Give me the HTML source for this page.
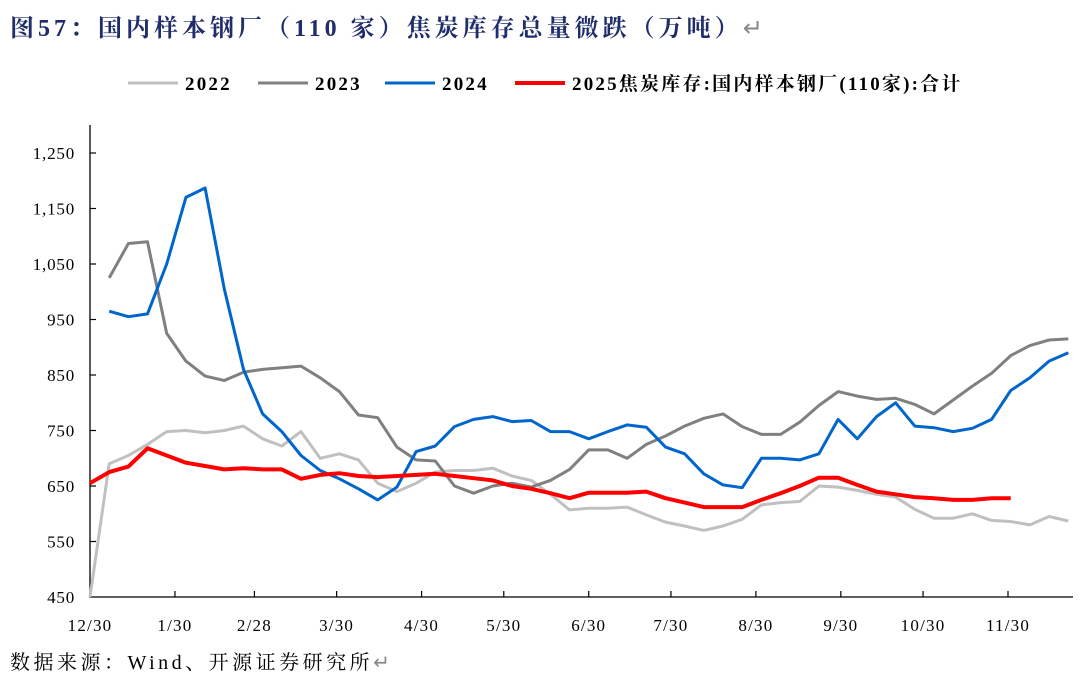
<!DOCTYPE html>
<html><head><meta charset="utf-8"><style>
body{margin:0;width:1080px;height:674px;background:#fff;overflow:hidden;font-family:"Liberation Serif","Noto Serif CJK SC",serif;}
#title{position:absolute;left:10px;top:8px;font-size:24px;font-weight:bold;color:#1f2d6b;letter-spacing:4px;white-space:nowrap;}
#src{position:absolute;left:10px;top:646px;font-size:20px;color:#000;letter-spacing:3.5px;white-space:nowrap;}
svg{position:absolute;left:0;top:0;}
</style></head><body>
<div id="title">图57：国内样本钢厂（110 家）焦炭库存总量微跌（万吨）<span style="color:#888;font-weight:normal">↵</span></div>
<svg id="chart" width="1080" height="674"></svg>
<div id="src">数据来源：Wind、开源证券研究所<span style="color:#888">↵</span></div>
<script>
const yTicks=[450,550,650,750,850,950,1050,1150,1250];
const yTickLabels=["450","550","650","750","850","950","1,050","1,150","1,250"];
const xTickDays=[0,31,60,90,121,151,182,212,243,274,304,335];
const xTickLabels=["12/30","1/30","2/28","3/30","4/30","5/30","6/30","7/30","8/30","9/30","10/30","11/30"];
const seriesNames=["2022","2023","2024","2025焦炭库存:国内样本钢厂(110家):合计"];
const s2022=[450,690,705,725,748,750,746,750,758,735,722,748,700,708,697,655,640,655,675,678,678,682,668,660,635,607,610,610,612,598,585,578,570,578,590,616,620,622,650,648,642,635,630,608,592,592,600,588,586,580,595,587];
const s2023=[null,1025,1087,1090,925,875,848,840,855,860,863,866,845,820,778,773,720,697,695,650,637,650,655,648,660,680,715,715,700,725,740,758,772,780,757,743,743,765,795,820,812,806,808,797,780,805,830,853,885,903,913,915];
const s2024=[null,965,955,960,1050,1170,1187,1005,860,780,748,705,678,663,645,625,648,712,722,757,770,775,766,768,748,748,735,748,760,756,720,708,672,652,647,700,700,697,708,770,735,775,800,758,755,748,754,770,822,845,875,890];
const s2025=[655,675,685,718,705,692,686,680,682,680,680,663,670,673,668,666,668,670,672,668,664,660,650,645,637,628,638,638,638,640,628,620,612,612,612,625,637,650,665,665,652,640,635,630,628,625,625,628,628];
const colors=["#c0c0c0","#808080","#0066cc","#ff0000"];
const NS="http://www.w3.org/2000/svg";
const svg=document.getElementById('chart');
const X0=90,X1=1073,Y0=597,PXD=(1008-90)/335;
const xDay=d=>X0+d*PXD;
const xIdx=i=>xDay(i*7);
const yV=v=>Y0-(v-450)*0.555;
function el(t,a){const e=document.createElementNS(NS,t);for(const k in a)e.setAttribute(k,a[k]);svg.appendChild(e);return e;}
let ax=el('path',{d:`M${X0} 125V${Y0}H${X1}`,stroke:'#000','stroke-width':1.3,fill:'none'});


yTicks.forEach((v,i)=>{
  const y=yV(v);
  if(i>0){const t=el('line',{x1:X0,x2:X0+6,y1:y,y2:y,stroke:'#000','stroke-width':1.2});
  
  }
  const l=el('text',{x:75,y:y+6,'text-anchor':'end','font-size':17,'letter-spacing':0.8});
  l.textContent=yTickLabels[i];
  
  
});
xTickDays.forEach((d,i)=>{
  const x=xDay(d);
  if(i>0){const t=el('line',{x1:x,x2:x,y1:Y0,y2:Y0-6,stroke:'#000','stroke-width':1.2});
  
  }
  const l=el('text',{x:x,y:631,'text-anchor':'middle','font-size':17,'letter-spacing':1.2});
  l.textContent=xTickLabels[i];
  
  
});
[s2022,s2023,s2024,s2025].forEach((s,k)=>{
  let d='',pen=false;
  s.forEach((v,i)=>{if(v==null){pen=false;return;}d+=(pen?'L':'M')+xIdx(i).toFixed(1)+' '+yV(v).toFixed(1);pen=true;});
  const p=el('path',{d:d,stroke:colors[k],'stroke-width':k==3?4:3,fill:'none','stroke-linejoin':'round'});
  
  
});
const legX=[128,258,385,515];
seriesNames.forEach((n,k)=>{
  const ln=el('line',{x1:legX[k],x2:legX[k]+50,y1:83,y2:83,stroke:colors[k],'stroke-width':k==3?4:3});
  
  
  const t=el('text',{x:legX[k]+57,y:90,'font-size':19,'font-weight':'bold','letter-spacing':2.2});
  t.textContent=n;
  
  
});
</script>
</body></html>
